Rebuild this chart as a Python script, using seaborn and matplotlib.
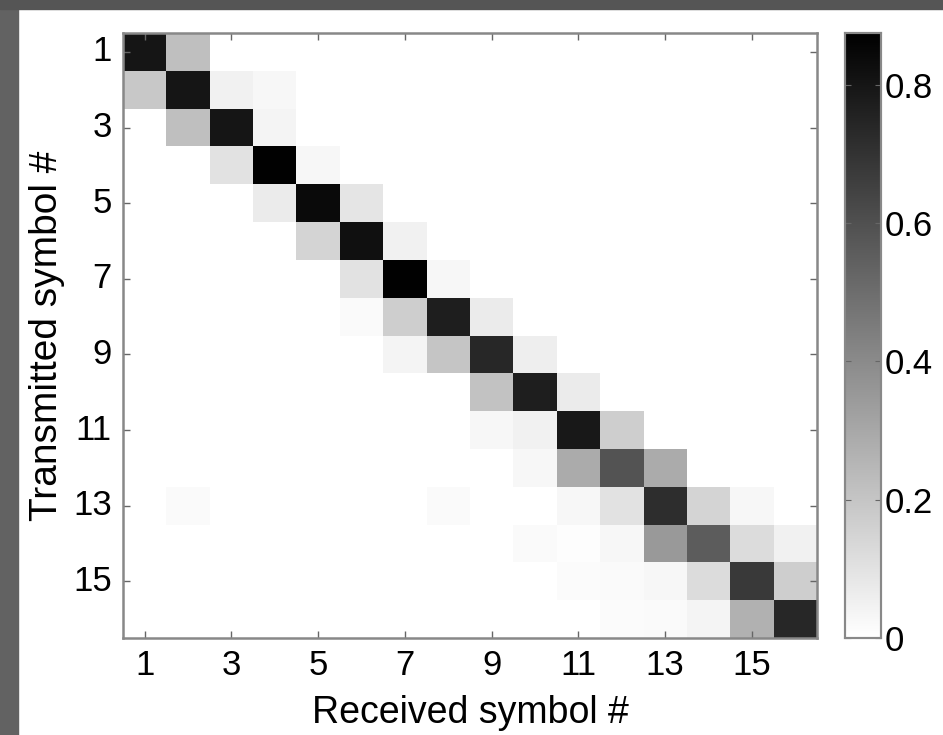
import numpy as np
import pandas as pd
import matplotlib
matplotlib.use("Agg")
import matplotlib.pyplot as plt
from matplotlib.patches import Rectangle
import seaborn as sns

# symbols 1..16, rows = transmitted, cols = received
symbols = list(range(1, 17))

# main diagonal (correct detection probability)
diag = [0.80, 0.80, 0.80, 0.87, 0.84, 0.82, 0.87, 0.77,
        0.74, 0.77, 0.79, 0.59, 0.72, 0.56, 0.68, 0.74]
# row i+1, col i
lower1 = [0.19, 0.22, 0.10, 0.07, 0.15, 0.10, 0.17, 0.20,
          0.21, 0.05, 0.29, 0.10, 0.35, 0.12, 0.27]
# row i, col i+1
upper1 = [0.22, 0.05, 0.04, 0.03, 0.09, 0.05, 0.03, 0.07,
          0.06, 0.07, 0.17, 0.29, 0.15, 0.12, 0.17]
# row i+2, col i
lower2 = [0.00, 0.00, 0.00, 0.00, 0.00, 0.02, 0.04, 0.00,
          0.03, 0.03, 0.03, 0.03, 0.03, 0.04]
# row i, col i+2
upper2 = [0.00, 0.03, 0.00, 0.00, 0.00, 0.00, 0.00, 0.00,
          0.00, 0.00, 0.00, 0.00, 0.03, 0.05]
# scattered faint entries (row, col, value), 1-based
faint = [(13, 2, 0.02), (13, 8, 0.02), (14, 10, 0.02), (15, 11, 0.015),
         (15, 12, 0.02), (16, 12, 0.015), (16, 13, 0.02), (14, 11, 0.01)]

cbar_ticks = [0, 0.2, 0.4, 0.6, 0.8]
vmax = 0.875

n = len(symbols)
mat = np.diag(diag)
mat += np.diag(lower1, -1) + np.diag(upper1, 1)
mat += np.diag(lower2, -2) + np.diag(upper2, 2)
for r, c, v in faint:
    mat[r - 1, c - 1] = v
df = pd.DataFrame(mat, index=symbols, columns=symbols)

plt.rcParams['font.family'] = ['Liberation Sans', 'DejaVu Sans']

fig = plt.figure(figsize=(9.43, 7.35), dpi=100)
# dark frame strips on top / left of the screenshot
fig.patches.append(Rectangle((0, 0), 18 / 943, 1, transform=fig.transFigure,
                             color='#626262', zorder=-1))
fig.patches.append(Rectangle((0, 1 - 9 / 735), 1, 9 / 735, transform=fig.transFigure,
                             color='#555555', zorder=-1))

ax = fig.add_axes([0.1304, 0.132, 0.736, 0.823])
cax = fig.add_axes([0.896, 0.132, 0.038, 0.823])

sns.heatmap(df, ax=ax, cbar_ax=cax, cmap='gray_r', vmin=0, vmax=vmax,
            xticklabels=2, yticklabels=2, cbar_kws={'ticks': cbar_ticks})

ax.set_xlabel('Received symbol #', fontsize=27, labelpad=9)
ax.set_ylabel('Transmitted symbol #', fontsize=28, labelpad=6)
ax.tick_params(direction='in', top=True, right=True, length=5, width=1,
               color='#666666', labelsize=25, pad=8)
plt.setp(ax.get_yticklabels(), rotation=0)
plt.setp(ax.get_xticklabels(), rotation=0)
for s in ax.spines.values():
    s.set_visible(True)
    s.set_color('#888888')
    s.set_linewidth(1.8)

cax.tick_params(direction='in', left=True, right=True, length=4,
                color='#666666', labelsize=25, pad=3)
cax.set_yticklabels(['0', '0.2', '0.4', '0.6', '0.8'])
for s in cax.spines.values():
    s.set_visible(True)
    s.set_color('#888888')
    s.set_linewidth(1.5)

fig.savefig('out.png', dpi=100)
